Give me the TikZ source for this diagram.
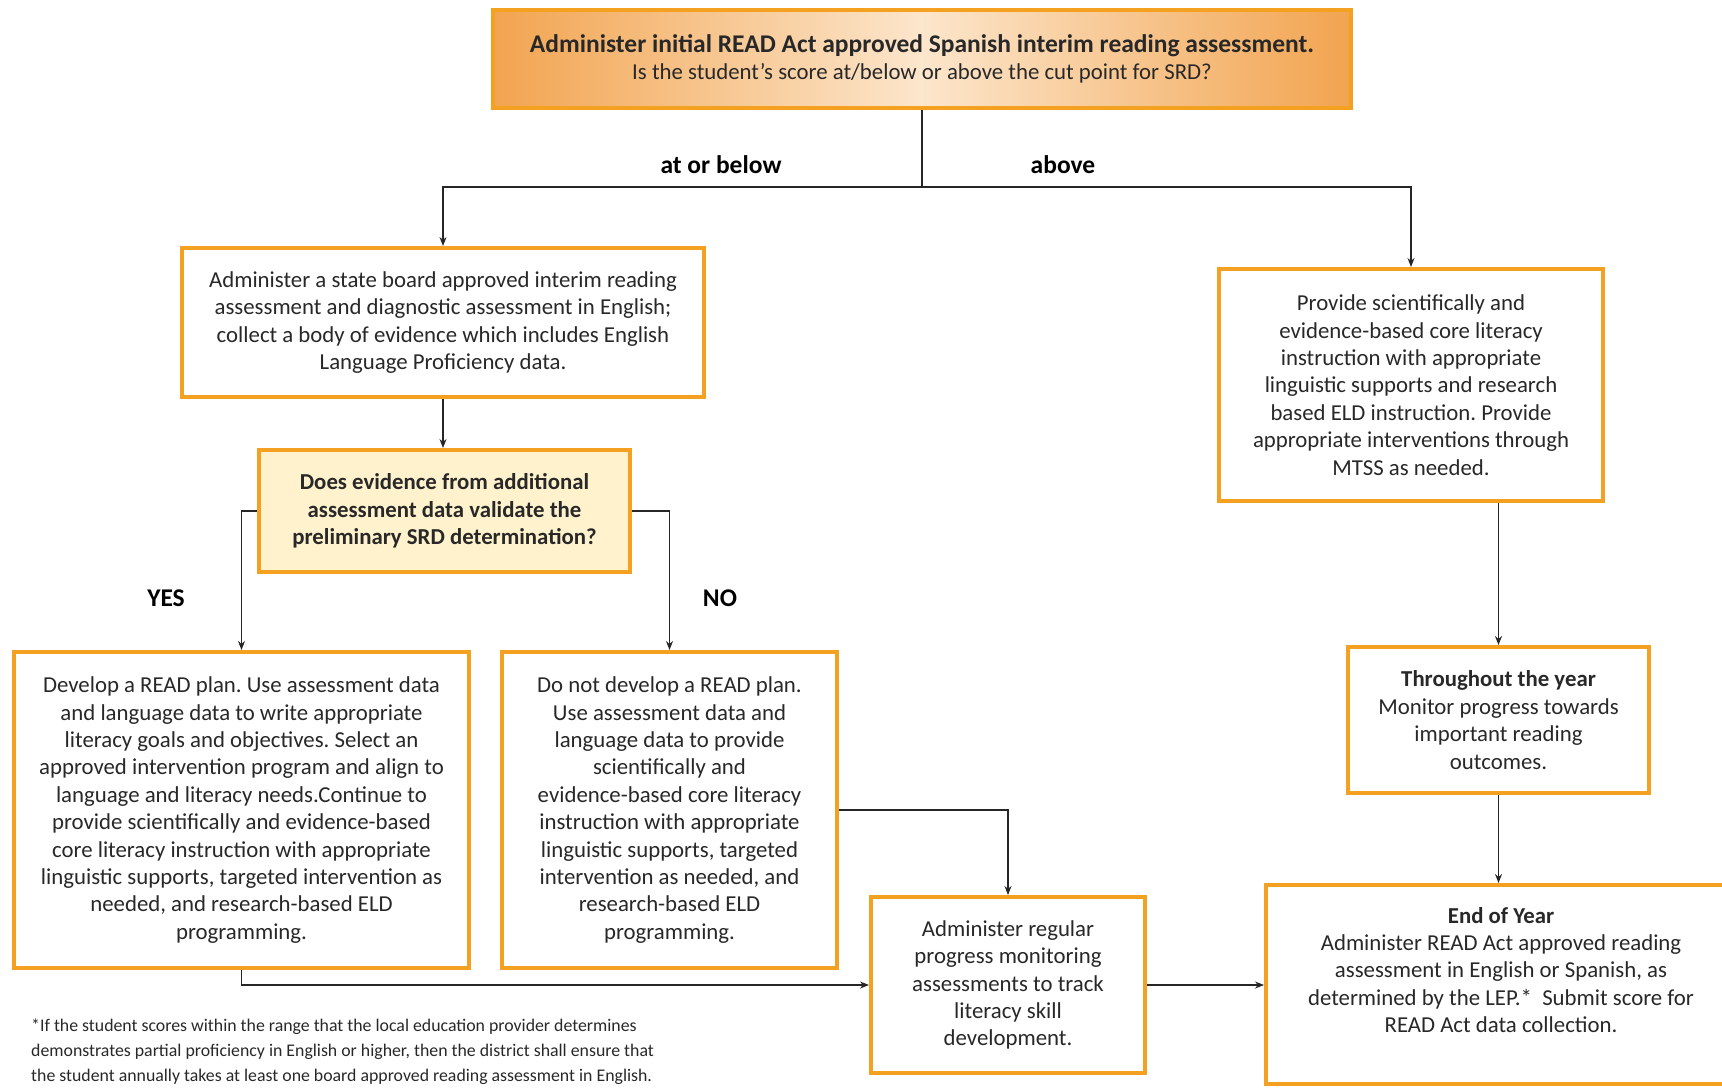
\documentclass[tikz,border=0pt]{standalone}
\usepackage{fontspec}
\setmainfont{Carlito}
\usetikzlibrary{arrows.meta,positioning}
\definecolor{bordor}{RGB}{244,160,32}
\definecolor{topedge}{RGB}{242,164,80}
\definecolor{topmid}{RGB}{252,230,204}
\definecolor{decfill}{RGB}{255,242,204}
\definecolor{txt}{RGB}{40,40,40}
\frenchspacing
\begin{document}
\begin{tikzpicture}[x=1pt,y=-1pt,
  font=\fontsize{22.8}{27.4}\selectfont,text=txt,
  box/.style={draw=bordor,line width=4pt,fill=white,align=center,inner sep=6pt},
  topbox/.style={box,left color=topedge,right color=topedge,middle color=topmid},
  dec/.style={box,fill=decfill,font=\fontsize{22.8}{27.4}\selectfont\bfseries},
  lbl/.style={font=\fontsize{25.5}{28}\selectfont\bfseries,text=black},
  ar/.style={-{Stealth[length=9pt,width=7pt]},line width=1.3pt,black!85}]
\useasboundingbox (0,0) rectangle (1722,1088);
\clip (0,0) rectangle (1722,1088);
\node[topbox,minimum width=858pt,minimum height=98pt] (top) at (922,59)
  {{\fontsize{25.5}{29}\selectfont\textbf{Administer initial READ Act approved Spanish interim reading assessment.}}\\
   Is the student’s score at/below or above the cut point for SRD?};
\node[box,minimum width=522pt,minimum height=149pt] (A) at (443,322.5)
  {Administer a state board approved interim reading\\
   assessment and diagnostic assessment in English;\\
   collect a body of evidence which includes English\\
   Language Proficiency data.};
\node[dec,minimum width=371pt,minimum height=122pt] (dec) at (444.5,511)
  {Does evidence from additional\\ assessment data validate the\\ preliminary SRD determination?};
\node[box,minimum width=455pt,minimum height=316pt] (B) at (241.5,810)
  {Develop a READ plan. Use assessment data\\
   and language data to write appropriate\\
   literacy goals and objectives. Select an\\
   approved intervention program and align to\\
   language and literacy needs.Continue to\\
   provide scientifically and evidence-based\\
   core literacy instruction with appropriate\\
   linguistic supports, targeted intervention as\\
   needed, and research-based ELD\\
   programming.};
\node[box,minimum width=335pt,minimum height=316pt] (C) at (669.5,810)
  {Do not develop a READ plan.\\
   Use assessment data and\\
   language data to provide\\
   scientifically and\\
   evidence-based core literacy\\
   instruction with appropriate\\
   linguistic supports, targeted\\
   intervention as needed, and\\
   research-based ELD\\
   programming.};
\node[box,minimum width=274pt,minimum height=176pt] (D) at (1008,985)
  {Administer regular\\ progress monitoring\\ assessments to track\\ literacy skill\\ development.};
\node[box,minimum width=301pt,minimum height=146pt] (F) at (1498.5,720)
  {\textbf{Throughout the year}\\ Monitor progress towards\\ important reading\\ outcomes.};
\node[box,minimum width=384pt,minimum height=232pt] (E) at (1411,385)
  {Provide scientifically and\\ evidence-based core literacy\\ instruction with appropriate\\
   linguistic supports and research\\ based ELD instruction. Provide\\
   appropriate interventions through\\ MTSS as needed.};
\node[box,minimum width=470pt,minimum height=199pt,text depth=0pt] (G) at (1501,984.5)
  {\textbf{End of Year}\\ Administer READ Act approved reading\\ assessment in English or Spanish, as\\
   determined by the LEP.*\ \ Submit score for\\ READ Act data collection.\\[2pt]};
\node[anchor=north west,align=left,inner sep=0pt,font=\fontsize{17.8}{24.6}\selectfont] (note) at (31,1019)
  {*If the student scores within the range that the local education provider determines\\
   demonstrates partial proficiency in English or higher, then the district shall ensure that\\
   the student annually takes at least one board approved reading assessment in English.};
\coordinate (split) at (922,187);
\draw[ar,-] (top.south) -- (split);
\draw[ar] (split) -| (A.north);
\draw[ar] (split) -| (E.north);
\node[lbl] (lbelow) at (721,165) {at or below};
\node[lbl] (labove) at (1063,165) {above};
\draw[ar] (A.south) -- (A.south |- dec.north);
\draw[ar] (dec.west) -| (B.north);
\draw[ar] (dec.east) -| (C.north);
\node[lbl] (lyes) at (166,598) {YES};
\node[lbl] (lno) at (720,598) {NO};
\draw[ar] (C.east) -| (D.north);
\draw[ar] (B.south) |- (D.west);
\draw[ar] (D.east) -- (D.east -| G.west);
\draw[ar] (E.south -| F.north) -- (F.north);
\draw[ar] (F.south) -- (F.south |- G.north);
\end{tikzpicture}
\end{document}
